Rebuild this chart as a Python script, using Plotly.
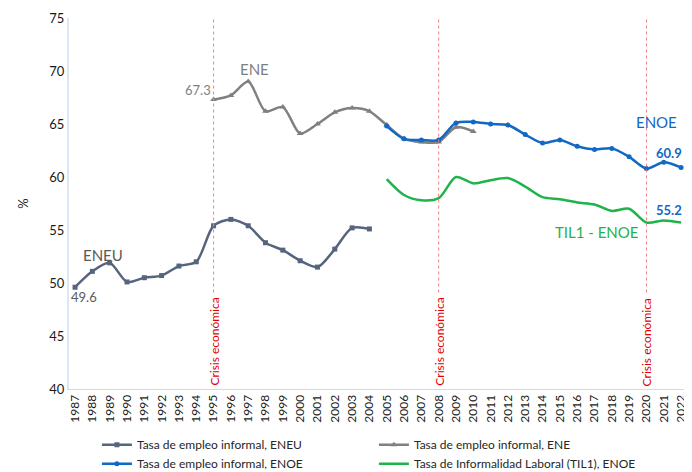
import plotly.graph_objects as go

years_eneu = list(range(1987, 2005))
eneu = [49.6, 51.1, 51.9, 50.1, 50.5, 50.7, 51.6, 52.0, 55.4, 56.0, 55.4, 53.8, 53.1, 52.1, 51.5, 53.2, 55.2, 55.1]

years_ene = list(range(1995, 2011))
ene = [67.3, 67.7, 69.0, 66.2, 66.6, 64.1, 65.0, 66.1, 66.5, 66.2, 64.9, 63.6, 63.3, 63.3, 64.7, 64.3]

years_enoe = list(range(2005, 2023))
enoe = [64.8, 63.6, 63.5, 63.5, 65.1, 65.2, 65.0, 64.9, 64.0, 63.2, 63.5, 62.9, 62.6, 62.7, 61.9, 60.8, 61.4, 60.9]

til1 = [59.8, 58.3, 57.8, 58.0, 60.0, 59.4, 59.7, 59.9, 59.1, 58.1, 57.9, 57.6, 57.4, 56.8, 57.0, 55.7, 55.9, 55.7]

crisis_years = [1995, 2008, 2020]
crisis_label = "Crisis económica"
tick_years = list(range(1987, 2023))

names = ["Tasa de empleo informal, ENEU", "Tasa de empleo informal, ENE",
         "Tasa de empleo informal, ENOE", "Tasa de Informalidad Laboral (TIL1), ENOE"]

C_ENEU = "#56647e"
C_ENE = "#808080"
C_ENOE = "#1169c4"
C_TIL = "#1fb34a"
FONT = "Lato"

fig = go.Figure()
fig.add_trace(go.Scatter(x=years_eneu, y=eneu, name=names[0], mode="lines+markers",
                         line=dict(color=C_ENEU, width=2.5, shape="spline", smoothing=0.8),
                         marker=dict(symbol="square", size=5, color=C_ENEU)))
fig.add_trace(go.Scatter(x=years_ene, y=ene, name=names[1], mode="lines+markers",
                         line=dict(color=C_ENE, width=2.5, shape="spline", smoothing=0.8),
                         marker=dict(symbol="triangle-up", size=6, color=C_ENE)))
fig.add_trace(go.Scatter(x=years_enoe, y=enoe, name=names[2], mode="lines+markers",
                         line=dict(color=C_ENOE, width=2.5, shape="spline", smoothing=0.8),
                         marker=dict(symbol="circle", size=5, color=C_ENOE)))
fig.add_trace(go.Scatter(x=years_enoe, y=til1, name=names[3], mode="lines",
                         line=dict(color=C_TIL, width=2.5, shape="spline", smoothing=0.8)))

for cy in crisis_years:
    fig.add_shape(type="line", x0=cy, x1=cy, y0=49.1, y1=75, xref="x", yref="y",
                  line=dict(color="#f08080", width=1, dash="dot"))
    fig.add_annotation(x=cy, y=40, text=crisis_label, textangle=-90, showarrow=False,
                       xanchor="center", yanchor="bottom", yshift=1,
                       font=dict(color="#e00000", size=12, family=FONT))

annots = [
    (1988.6, 52.6, "ENEU", "#595959", 15, False, "center", 0),
    (1987.5, 48.7, "49.6", "#595959", 13, False, "center", 0),
    (1994.1, 68.2, "67.3", "#7f7f7f", 13, False, "center", 0),
    (1997.35, 70.2, "ENE", "#7f7f7f", 15, False, "center", 0),
    (2020.6, 65.2, "ENOE", C_ENOE, 15, False, "center", 0),
    (2022.0, 62.3, "60.9", C_ENOE, 13, True, "right", 3),
    (2017.15, 54.8, "TIL1 - ENOE", C_TIL, 15, False, "center", 0),
    (2022.0, 56.9, "55.2", C_ENOE, 13, True, "right", 3),
]
for x, y, t, c, s, b, xa, xs in annots:
    fig.add_annotation(x=x, y=y, text=f"<b>{t}</b>" if b else t, showarrow=False,
                       xanchor=xa, xshift=xs, font=dict(color=c, size=s, family=FONT))

fig.update_layout(
    template="none",
    width=684, height=464,
    margin=dict(l=61, r=4, t=10, b=83),
    paper_bgcolor="white", plot_bgcolor="white",
    font=dict(family=FONT, color="#262626"),
    showlegend=True,
    legend=dict(orientation="h", xref="container", yref="container",
                x=0.13, xanchor="left", y=0.09, yanchor="top",
                entrywidth=232, entrywidthmode="pixels", tracegroupgap=0,
                font=dict(size=12, color="#262626"), itemwidth=30,
                bgcolor="rgba(0,0,0,0)"),
    xaxis=dict(range=[1986.65, 2022.4], tickmode="array", tickvals=tick_years,
               ticktext=[str(y) for y in tick_years], tickangle=-90,
               tickfont=dict(size=12, color="#1a1a1a"), showgrid=False, zeroline=False,
               showline=True, linecolor="#d9d9d9", linewidth=1, ticks="", automargin=False),
    yaxis=dict(range=[40, 75], tickmode="array", tickvals=[40, 45, 50, 55, 60, 65, 70, 75],
               tickfont=dict(size=13, color="#1a1a1a"), showgrid=False, zeroline=False,
               showline=True, linecolor="#dce6f4", linewidth=2, ticks="",
               title=dict(text="%", font=dict(size=13), standoff=18), automargin=False),
)

fig.write_html("out.html")
